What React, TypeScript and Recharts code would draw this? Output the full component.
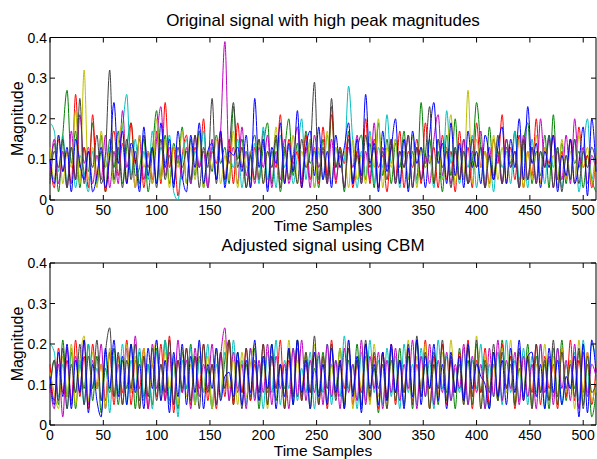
import React from "react";
import { LineChart, Line, XAxis, YAxis, ReferenceArea } from "recharts";

// sample index (every 4th sample of the 512-sample frame)
const samples = [
  0, 4, 8, 12, 16, 20, 24, 28, 32, 36, 40, 44, 48, 52, 56, 60,
  64, 68, 72, 76, 80, 84, 88, 92, 96, 100, 104, 108, 112, 116, 120, 124,
  128, 132, 136, 140, 144, 148, 152, 156, 160, 164, 168, 172, 176, 180, 184, 188,
  192, 196, 200, 204, 208, 212, 216, 220, 224, 228, 232, 236, 240, 244, 248, 252,
  256, 260, 264, 268, 272, 276, 280, 284, 288, 292, 296, 300, 304, 308, 312, 316,
  320, 324, 328, 332, 336, 340, 344, 348, 352, 356, 360, 364, 368, 372, 376, 380,
  384, 388, 392, 396, 400, 404, 408, 412, 416, 420, 424, 428, 432, 436, 440, 444,
  448, 452, 456, 460, 464, 468, 472, 476, 480, 484, 488, 492, 496, 500, 504, 508,
  512,
];

const xTicks = [0, 50, 100, 150, 200, 250, 300, 350, 400, 450, 500];
const yTicks = [0, 0.1, 0.2, 0.3, 0.4];

// ---- original signal ----
const origBlue = [
  0.10, 0.04, 0.16, 0.07, 0.13, 0.02, 0.15, 0.09, 0.05, 0.12, 0.02, 0.06, 0.13, 0.03, 0.11, 0.24,
  0.09, 0.17, 0.04, 0.14, 0.10, 0.02, 0.18, 0.06, 0.13, 0.04, 0.19, 0.08, 0.15, 0.03, 0.17, 0.06,
  0.02, 0.16, 0.08, 0.19, 0.04, 0.12, 0.14, 0.05, 0.17, 0.03, 0.12, 0.11, 0.13, 0.07, 0.16, 0.03,
  0.25, 0.08, 0.15, 0.02, 0.13, 0.09, 0.19, 0.04, 0.14, 0.07, 0.22, 0.03, 0.13, 0.17, 0.06, 0.18,
  0.05, 0.12, 0.03, 0.16, 0.08, 0.13, 0.19, 0.04, 0.15, 0.06, 0.26, 0.09, 0.14, 0.02, 0.17, 0.07,
  0.13, 0.20, 0.04, 0.15, 0.02, 0.17, 0.09, 0.13, 0.03, 0.16, 0.24, 0.09, 0.14, 0.04, 0.19, 0.06,
  0.14, 0.03, 0.17, 0.08, 0.12, 0.04, 0.16, 0.11, 0.05, 0.13, 0.18, 0.04, 0.15, 0.08, 0.20, 0.05,
  0.23, 0.09, 0.14, 0.03, 0.12, 0.08, 0.16, 0.02, 0.11, 0.06, 0.15, 0.04, 0.09, 0.18, 0.01, 0.20,
  0.07,
];
const origGreen = [
  0.05, 0.14, 0.02, 0.16, 0.27, 0.09, 0.17, 0.03, 0.13, 0.07, 0.19, 0.04, 0.12, 0.02, 0.15, 0.08,
  0.17, 0.04, 0.13, 0.19, 0.06, 0.08, 0.15, 0.02, 0.12, 0.22, 0.05, 0.16, 0.04, 0.14, 0.09, 0.18,
  0.04, 0.15, 0.06, 0.17, 0.03, 0.12, 0.07, 0.16, 0.09, 0.13, 0.04, 0.23, 0.10, 0.15, 0.03, 0.11,
  0.16, 0.05, 0.13, 0.19, 0.04, 0.15, 0.02, 0.12, 0.20, 0.06, 0.14, 0.04, 0.17, 0.09, 0.12, 0.03,
  0.15, 0.05, 0.21, 0.08, 0.13, 0.02, 0.17, 0.04, 0.12, 0.16, 0.05, 0.14, 0.03, 0.19, 0.06, 0.15,
  0.04, 0.14, 0.08, 0.17, 0.03, 0.12, 0.05, 0.24, 0.09, 0.15, 0.04, 0.12, 0.02, 0.16, 0.06, 0.20,
  0.05, 0.15, 0.04, 0.09, 0.24, 0.13, 0.03, 0.18, 0.06, 0.12, 0.04, 0.15, 0.09, 0.17, 0.03, 0.14,
  0.19, 0.04, 0.12, 0.06, 0.16, 0.03, 0.21, 0.05, 0.14, 0.04, 0.15, 0.09, 0.12, 0.03, 0.11, 0.05,
  0.02,
];
const origRed = [
  0.10, 0.03, 0.15, 0.07, 0.12, 0.04, 0.26, 0.08, 0.13, 0.03, 0.21, 0.05, 0.16, 0.02, 0.11, 0.17,
  0.06, 0.14, 0.04, 0.19, 0.09, 0.15, 0.03, 0.12, 0.05, 0.17, 0.04, 0.24, 0.08, 0.13, 0.01, 0.11,
  0.16, 0.04, 0.13, 0.08, 0.20, 0.03, 0.12, 0.09, 0.17, 0.05, 0.15, 0.04, 0.19, 0.08, 0.12, 0.03,
  0.13, 0.05, 0.17, 0.03, 0.12, 0.08, 0.21, 0.04, 0.15, 0.09, 0.12, 0.03, 0.16, 0.05, 0.13, 0.04,
  0.18, 0.06, 0.23, 0.04, 0.13, 0.09, 0.16, 0.03, 0.12, 0.05, 0.20, 0.04, 0.15, 0.08, 0.11, 0.02,
  0.13, 0.05, 0.17, 0.03, 0.12, 0.08, 0.15, 0.04, 0.19, 0.09, 0.13, 0.03, 0.16, 0.05, 0.12, 0.02,
  0.17, 0.05, 0.13, 0.03, 0.19, 0.08, 0.12, 0.04, 0.15, 0.09, 0.21, 0.04, 0.13, 0.05, 0.16, 0.03,
  0.12, 0.06, 0.20, 0.04, 0.13, 0.09, 0.16, 0.03, 0.12, 0.05, 0.15, 0.04, 0.18, 0.08, 0.11, 0.03,
  0.10,
];
const origCyan = [
  0.19, 0.17, 0.07, 0.16, 0.04, 0.13, 0.03, 0.11, 0.07, 0.02, 0.12, 0.04, 0.16, 0.08, 0.13, 0.04,
  0.11, 0.18, 0.26, 0.06, 0.15, 0.03, 0.12, 0.05, 0.17, 0.04, 0.13, 0.09, 0.16, 0.02, 0.00, 0.10,
  0.15, 0.04, 0.12, 0.08, 0.17, 0.03, 0.13, 0.05, 0.16, 0.04, 0.11, 0.08, 0.15, 0.03, 0.12, 0.05,
  0.14, 0.04, 0.18, 0.05, 0.12, 0.03, 0.16, 0.08, 0.13, 0.04, 0.11, 0.20, 0.05, 0.15, 0.03, 0.12,
  0.05, 0.16, 0.04, 0.13, 0.08, 0.10, 0.28, 0.14, 0.03, 0.12, 0.05, 0.17, 0.04, 0.13, 0.08, 0.21,
  0.09, 0.15, 0.03, 0.12, 0.05, 0.16, 0.04, 0.13, 0.08, 0.11, 0.03, 0.15, 0.05, 0.22, 0.09, 0.13,
  0.04, 0.12, 0.08, 0.16, 0.03, 0.13, 0.05, 0.11, 0.02, 0.15, 0.08, 0.12, 0.04, 0.17, 0.05, 0.13,
  0.03, 0.15, 0.05, 0.12, 0.04, 0.16, 0.08, 0.13, 0.03, 0.11, 0.05, 0.15, 0.02, 0.12, 0.20, 0.05,
  0.13,
];
const origMagenta = [
  0.06, 0.15, 0.04, 0.12, 0.03, 0.17, 0.05, 0.21, 0.09, 0.13, 0.04, 0.11, 0.05, 0.16, 0.03, 0.12,
  0.04, 0.22, 0.08, 0.13, 0.03, 0.16, 0.05, 0.12, 0.04, 0.15, 0.23, 0.06, 0.13, 0.04, 0.11, 0.05,
  0.13, 0.04, 0.16, 0.08, 0.12, 0.03, 0.15, 0.05, 0.17, 0.39, 0.09, 0.13, 0.04, 0.18, 0.06, 0.12,
  0.04, 0.13, 0.08, 0.16, 0.03, 0.12, 0.05, 0.15, 0.04, 0.11, 0.18, 0.05, 0.13, 0.03, 0.16, 0.08,
  0.12, 0.04, 0.15, 0.05, 0.11, 0.03, 0.13, 0.08, 0.16, 0.04, 0.12, 0.05, 0.19, 0.03, 0.13, 0.08,
  0.15, 0.04, 0.12, 0.08, 0.16, 0.03, 0.13, 0.05, 0.11, 0.04, 0.15, 0.21, 0.06, 0.13, 0.04, 0.12,
  0.05, 0.15, 0.04, 0.12, 0.08, 0.17, 0.03, 0.13, 0.05, 0.11, 0.04, 0.15, 0.08, 0.12, 0.03, 0.16,
  0.05, 0.13, 0.04, 0.20, 0.08, 0.15, 0.03, 0.12, 0.05, 0.16, 0.04, 0.20, 0.08, 0.13, 0.04, 0.11,
  0.07,
];
const origYellow = [
  0.13, 0.05, 0.16, 0.04, 0.12, 0.08, 0.22, 0.04, 0.32, 0.05, 0.13, 0.03, 0.17, 0.08, 0.12, 0.04,
  0.14, 0.19, 0.05, 0.13, 0.03, 0.16, 0.08, 0.12, 0.04, 0.20, 0.05, 0.15, 0.03, 0.13, 0.08, 0.17,
  0.04, 0.13, 0.05, 0.16, 0.03, 0.12, 0.08, 0.15, 0.04, 0.11, 0.05, 0.17, 0.03, 0.13, 0.08, 0.12,
  0.05, 0.15, 0.04, 0.12, 0.08, 0.18, 0.03, 0.13, 0.05, 0.16, 0.04, 0.12, 0.08, 0.15, 0.03, 0.13,
  0.05, 0.17, 0.04, 0.13, 0.08, 0.12, 0.03, 0.15, 0.05, 0.11, 0.04, 0.16, 0.08, 0.20, 0.03, 0.13,
  0.08, 0.15, 0.04, 0.12, 0.05, 0.16, 0.03, 0.13, 0.08, 0.11, 0.04, 0.15, 0.05, 0.12, 0.21, 0.04,
  0.13, 0.05, 0.27, 0.04, 0.15, 0.08, 0.12, 0.03, 0.16, 0.05, 0.13, 0.04, 0.11, 0.08, 0.15, 0.03,
  0.12, 0.05, 0.16, 0.04, 0.13, 0.08, 0.11, 0.03, 0.15, 0.05, 0.12, 0.04, 0.16, 0.08, 0.13, 0.04,
  0.11,
];
const origBlack = [
  0.04, 0.12, 0.08, 0.15, 0.03, 0.13, 0.05, 0.25, 0.04, 0.12, 0.08, 0.16, 0.04, 0.11, 0.32, 0.05,
  0.13, 0.03, 0.15, 0.05, 0.12, 0.04, 0.16, 0.08, 0.13, 0.03, 0.15, 0.05, 0.11, 0.04, 0.13, 0.08,
  0.12, 0.05, 0.16, 0.03, 0.13, 0.08, 0.25, 0.04, 0.15, 0.05, 0.12, 0.24, 0.08, 0.13, 0.03, 0.11,
  0.05, 0.15, 0.04, 0.12, 0.08, 0.16, 0.03, 0.13, 0.05, 0.11, 0.04, 0.15, 0.08, 0.12, 0.29, 0.05,
  0.13, 0.04, 0.25, 0.08, 0.12, 0.03, 0.15, 0.05, 0.11, 0.04, 0.16, 0.08, 0.13, 0.03, 0.12, 0.05,
  0.15, 0.04, 0.12, 0.08, 0.16, 0.03, 0.13, 0.05, 0.11, 0.23, 0.04, 0.15, 0.08, 0.12, 0.03, 0.13,
  0.05, 0.12, 0.04, 0.15, 0.08, 0.13, 0.03, 0.11, 0.05, 0.16, 0.04, 0.13, 0.08, 0.12, 0.03, 0.15,
  0.05, 0.13, 0.04, 0.12, 0.08, 0.16, 0.03, 0.13, 0.02, 0.11, 0.05, 0.15, 0.04, 0.12, 0.08, 0.13,
  0.09,
];

// ---- adjusted signal (CBM) ----
const adjBlue = [
  0.12, 0.05, 0.18, 0.07, 0.20, 0.04, 0.16, 0.08, 0.21, 0.03, 0.15, 0.06, 0.02, 0.19, 0.09, 0.21,
  0.07, 0.17, 0.05, 0.20, 0.08, 0.15, 0.04, 0.19, 0.09, 0.21, 0.06, 0.16, 0.03, 0.18, 0.07, 0.20,
  0.05, 0.17, 0.08, 0.21, 0.04, 0.15, 0.09, 0.19, 0.06, 0.12, 0.13, 0.07, 0.18, 0.05, 0.16, 0.08,
  0.21, 0.06, 0.17, 0.09, 0.20, 0.04, 0.15, 0.07, 0.19, 0.05, 0.21, 0.08, 0.16, 0.04, 0.18, 0.07,
  0.15, 0.05, 0.19, 0.08, 0.16, 0.04, 0.21, 0.07, 0.17, 0.03, 0.20, 0.09, 0.15, 0.05, 0.18, 0.06,
  0.20, 0.08, 0.16, 0.04, 0.19, 0.07, 0.21, 0.05, 0.17, 0.09, 0.20, 0.06, 0.15, 0.04, 0.18, 0.08,
  0.17, 0.06, 0.20, 0.09, 0.15, 0.12, 0.10, 0.04, 0.18, 0.07, 0.16, 0.05, 0.19, 0.08, 0.21, 0.06,
  0.17, 0.18, 0.07, 0.15, 0.04, 0.19, 0.08, 0.16, 0.05, 0.12, 0.09, 0.17, 0.02, 0.20, 0.03, 0.21,
  0.13,
];
const adjGreen = [
  0.08, 0.16, 0.05, 0.21, 0.07, 0.18, 0.04, 0.15, 0.09, 0.20, 0.06, 0.17, 0.03, 0.14, 0.08, 0.19,
  0.05, 0.16, 0.09, 0.20, 0.04, 0.18, 0.07, 0.15, 0.05, 0.19, 0.08, 0.21, 0.06, 0.16, 0.04, 0.18,
  0.09, 0.20, 0.05, 0.17, 0.08, 0.14, 0.04, 0.19, 0.07, 0.16, 0.21, 0.05, 0.18, 0.08, 0.15, 0.06,
  0.19, 0.04, 0.16, 0.08, 0.20, 0.06, 0.15, 0.09, 0.18, 0.05, 0.21, 0.07, 0.17, 0.04, 0.14, 0.08,
  0.18, 0.06, 0.15, 0.09, 0.19, 0.05, 0.16, 0.08, 0.20, 0.04, 0.17, 0.07, 0.14, 0.03, 0.18, 0.06,
  0.16, 0.08, 0.19, 0.05, 0.17, 0.04, 0.21, 0.07, 0.15, 0.09, 0.18, 0.05, 0.20, 0.08, 0.16, 0.04,
  0.19, 0.07, 0.16, 0.05, 0.20, 0.08, 0.15, 0.04, 0.18, 0.06, 0.21, 0.09, 0.17, 0.05, 0.14, 0.07,
  0.20, 0.05, 0.17, 0.08, 0.15, 0.04, 0.19, 0.07, 0.21, 0.06, 0.16, 0.09, 0.18, 0.05, 0.15, 0.02,
  0.08,
];
const adjRed = [
  0.15, 0.06, 0.19, 0.08, 0.16, 0.05, 0.21, 0.07, 0.17, 0.04, 0.20, 0.09, 0.15, 0.06, 0.18, 0.05,
  0.17, 0.08, 0.21, 0.05, 0.16, 0.09, 0.19, 0.04, 0.15, 0.07, 0.20, 0.06, 0.22, 0.03, 0.16, 0.08,
  0.19, 0.05, 0.17, 0.09, 0.20, 0.06, 0.15, 0.04, 0.18, 0.07, 0.21, 0.05, 0.16, 0.08, 0.19, 0.06,
  0.15, 0.08, 0.20, 0.05, 0.17, 0.09, 0.21, 0.04, 0.16, 0.07, 0.19, 0.06, 0.15, 0.08, 0.18, 0.05,
  0.17, 0.04, 0.21, 0.07, 0.16, 0.09, 0.19, 0.05, 0.15, 0.08, 0.20, 0.06, 0.17, 0.04, 0.18, 0.07,
  0.20, 0.05, 0.16, 0.08, 0.19, 0.06, 0.15, 0.09, 0.21, 0.04, 0.17, 0.07, 0.20, 0.05, 0.16, 0.08,
  0.18, 0.06, 0.21, 0.04, 0.16, 0.08, 0.19, 0.05, 0.15, 0.07, 0.20, 0.09, 0.17, 0.04, 0.18, 0.06,
  0.16, 0.08, 0.20, 0.05, 0.17, 0.09, 0.15, 0.04, 0.19, 0.07, 0.21, 0.06, 0.16, 0.08, 0.18, 0.05,
  0.14,
];
const adjCyan = [
  0.20, 0.18, 0.07, 0.15, 0.04, 0.19, 0.08, 0.16, 0.05, 0.20, 0.09, 0.14, 0.06, 0.18, 0.03, 0.17,
  0.08, 0.20, 0.05, 0.16, 0.09, 0.19, 0.06, 0.15, 0.04, 0.18, 0.08, 0.21, 0.05, 0.17, 0.02, 0.16,
  0.09, 0.19, 0.05, 0.16, 0.08, 0.20, 0.04, 0.15, 0.07, 0.18, 0.06, 0.21, 0.09, 0.16, 0.05, 0.19,
  0.07, 0.15, 0.04, 0.18, 0.08, 0.21, 0.05, 0.16, 0.09, 0.19, 0.06, 0.14, 0.08, 0.18, 0.04, 0.17,
  0.08, 0.20, 0.05, 0.16, 0.07, 0.22, 0.09, 0.15, 0.04, 0.18, 0.06, 0.21, 0.08, 0.16, 0.05, 0.19,
  0.07, 0.17, 0.04, 0.20, 0.08, 0.15, 0.05, 0.19, 0.07, 0.16, 0.04, 0.21, 0.09, 0.17, 0.06, 0.14,
  0.08, 0.19, 0.05, 0.16, 0.09, 0.20, 0.04, 0.15, 0.07, 0.18, 0.05, 0.21, 0.08, 0.16, 0.06, 0.19,
  0.05, 0.17, 0.08, 0.20, 0.04, 0.16, 0.07, 0.19, 0.05, 0.15, 0.09, 0.18, 0.06, 0.21, 0.08, 0.20,
  0.16,
];
const adjMagenta = [
  0.10, 0.04, 0.15, 0.02, 0.19, 0.06, 0.17, 0.08, 0.21, 0.05, 0.16, 0.09, 0.20, 0.04, 0.18, 0.07,
  0.15, 0.05, 0.19, 0.08, 0.22, 0.06, 0.17, 0.04, 0.20, 0.09, 0.15, 0.06, 0.18, 0.05, 0.21, 0.08,
  0.16, 0.04, 0.19, 0.07, 0.15, 0.09, 0.20, 0.05, 0.17, 0.24, 0.06, 0.18, 0.08, 0.15, 0.04, 0.19,
  0.06, 0.16, 0.08, 0.20, 0.05, 0.17, 0.09, 0.15, 0.04, 0.19, 0.07, 0.21, 0.06, 0.16, 0.08, 0.18,
  0.05, 0.20, 0.07, 0.16, 0.04, 0.19, 0.08, 0.15, 0.06, 0.21, 0.05, 0.17, 0.09, 0.18, 0.04, 0.16,
  0.08, 0.19, 0.06, 0.15, 0.09, 0.21, 0.04, 0.17, 0.07, 0.20, 0.05, 0.16, 0.08, 0.18, 0.06, 0.15,
  0.09, 0.20, 0.05, 0.17, 0.08, 0.15, 0.04, 0.19, 0.07, 0.21, 0.06, 0.16, 0.09, 0.18, 0.05, 0.17,
  0.07, 0.15, 0.04, 0.20, 0.08, 0.17, 0.05, 0.19, 0.09, 0.16, 0.06, 0.20, 0.04, 0.18, 0.07, 0.15,
  0.12,
];
const adjYellow = [
  0.13, 0.08, 0.04, 0.17, 0.07, 0.20, 0.05, 0.16, 0.22, 0.06, 0.18, 0.09, 0.15, 0.04, 0.19, 0.07,
  0.16, 0.05, 0.20, 0.08, 0.17, 0.04, 0.19, 0.07, 0.15, 0.21, 0.06, 0.18, 0.09, 0.16, 0.05, 0.19,
  0.07, 0.15, 0.05, 0.20, 0.08, 0.17, 0.04, 0.19, 0.06, 0.21, 0.09, 0.16, 0.05, 0.18, 0.07, 0.15,
  0.20, 0.06, 0.17, 0.04, 0.19, 0.08, 0.15, 0.05, 0.21, 0.07, 0.16, 0.09, 0.18, 0.04, 0.20, 0.06,
  0.17, 0.05, 0.15, 0.08, 0.19, 0.06, 0.21, 0.04, 0.16, 0.09, 0.18, 0.05, 0.20, 0.07, 0.15, 0.04,
  0.19, 0.06, 0.16, 0.08, 0.21, 0.05, 0.17, 0.09, 0.20, 0.04, 0.15, 0.07, 0.18, 0.06, 0.21, 0.08,
  0.16, 0.05, 0.20, 0.07, 0.22, 0.04, 0.17, 0.09, 0.15, 0.06, 0.19, 0.08, 0.21, 0.05, 0.16, 0.07,
  0.18, 0.04, 0.15, 0.09, 0.20, 0.06, 0.17, 0.05, 0.19, 0.08, 0.16, 0.04, 0.21, 0.07, 0.18, 0.06,
  0.11,
];
const adjBlack = [
  0.09, 0.16, 0.06, 0.19, 0.04, 0.15, 0.08, 0.20, 0.05, 0.17, 0.09, 0.21, 0.06, 0.18, 0.24, 0.07,
  0.18, 0.05, 0.16, 0.09, 0.20, 0.04, 0.17, 0.07, 0.19, 0.06, 0.15, 0.08, 0.21, 0.05, 0.16, 0.09,
  0.19, 0.06, 0.17, 0.04, 0.20, 0.08, 0.15, 0.05, 0.18, 0.09, 0.21, 0.06, 0.16, 0.04, 0.19, 0.07,
  0.16, 0.08, 0.20, 0.05, 0.17, 0.09, 0.15, 0.04, 0.19, 0.07, 0.21, 0.06, 0.18, 0.08, 0.22, 0.05,
  0.17, 0.09, 0.20, 0.06, 0.15, 0.04, 0.19, 0.08, 0.16, 0.05, 0.21, 0.07, 0.18, 0.09, 0.15, 0.04,
  0.19, 0.06, 0.16, 0.08, 0.20, 0.05, 0.22, 0.07, 0.18, 0.04, 0.15, 0.09, 0.21, 0.06, 0.17, 0.08,
  0.15, 0.05, 0.19, 0.07, 0.21, 0.04, 0.16, 0.08, 0.20, 0.06, 0.18, 0.09, 0.15, 0.05, 0.19, 0.07,
  0.17, 0.04, 0.20, 0.08, 0.16, 0.06, 0.21, 0.05, 0.18, 0.09, 0.15, 0.07, 0.19, 0.04, 0.17, 0.08,
  0.10,
];

// matlab-ish line order, blue drawn last so it sits on top
const seriesKeys = ["g", "r", "c", "m", "y", "k", "b"];
const seriesColors: Record<string, string> = {
  b: "#0000ff",
  g: "#008000",
  r: "#ff0000",
  c: "#00bfbf",
  m: "#bf00bf",
  y: "#bfbf00",
  k: "#404040",
};

const origData = samples.map((s, i) => ({
  s,
  b: origBlue[i],
  g: origGreen[i],
  r: origRed[i],
  c: origCyan[i],
  m: origMagenta[i],
  y: origYellow[i],
  k: origBlack[i],
}));

const adjData = samples.map((s, i) => ({
  s,
  b: adjBlue[i],
  g: adjGreen[i],
  r: adjRed[i],
  c: adjCyan[i],
  m: adjMagenta[i],
  y: adjYellow[i],
  k: adjBlack[i],
}));

const W = 597;
const PLOT_LEFT = 50;
const PLOT_RIGHT = 596;
const TICK_LEN = 5;
const TICK_FONT = 14;

const XTick = (props: any) => {
  const { x, payload, base, top } = props;
  return (
    <g>
      <line x1={x} y1={base} x2={x} y2={base - TICK_LEN} stroke="#000" />
      <line x1={x} y1={top} x2={x} y2={top + TICK_LEN} stroke="#000" />
      <text x={x} y={base + 15} textAnchor="middle" fontSize={TICK_FONT} fill="#000">
        {payload.value}
      </text>
    </g>
  );
};

const YTick = (props: any) => {
  const { y, payload } = props;
  const v = payload.value === 0 ? "0" : Number(payload.value).toFixed(1);
  return (
    <g>
      <line x1={PLOT_LEFT} y1={y} x2={PLOT_LEFT + TICK_LEN} y2={y} stroke="#000" />
      <line x1={PLOT_RIGHT} y1={y} x2={PLOT_RIGHT - TICK_LEN} y2={y} stroke="#000" />
      <text x={PLOT_LEFT - 3} y={y + 5} textAnchor="end" fontSize={TICK_FONT} fill="#000">
        {v}
      </text>
    </g>
  );
};

interface PanelProps {
  data: any[];
  title: string;
  height: number;
  plotTop: number;
  plotBottom: number;
}

function Panel({ data, title, height, plotTop, plotBottom }: PanelProps) {
  const xAxisH = 30;
  const cx = (PLOT_LEFT + PLOT_RIGHT) / 2;
  const cy = (plotTop + plotBottom) / 2;
  return (
    <LineChart
      width={W}
      height={height}
      data={data}
      margin={{ top: plotTop, right: W - PLOT_RIGHT, bottom: height - plotBottom - xAxisH, left: 10 }}
    >
      <XAxis
        dataKey="s"
        type="number"
        domain={[0, 512]}
        ticks={xTicks}
        interval={0}
        height={xAxisH}
        axisLine={false}
        tickLine={false}
        tickSize={0}
        tickMargin={0}
        tick={<XTick base={plotBottom} top={plotTop} />}
        label={() => (
          <text x={cx} y={plotBottom + 31} textAnchor="middle" fontSize={15.5} fill="#000">
            Time Samples
          </text>
        )}
      />
      <YAxis
        type="number"
        domain={[0, 0.4]}
        ticks={yTicks}
        interval={0}
        width={40}
        axisLine={false}
        tickLine={false}
        tickSize={0}
        tickMargin={0}
        allowDataOverflow
        tick={<YTick />}
        label={() => (
          <text
            x={17}
            y={cy}
            textAnchor="middle"
            dominantBaseline="central"
            fontSize={16}
            fill="#000"
            transform={`rotate(-90, 17, ${cy})`}
          >
            Magnitude
          </text>
        )}
      />
      {seriesKeys.map((k) => (
        <Line
          key={k}
          type="monotone"
          dataKey={k}
          stroke={seriesColors[k]}
          strokeWidth={1}
          dot={false}
          activeDot={false}
          isAnimationActive={false}
        />
      ))}
      <ReferenceArea
        x1={0}
        x2={512}
        y1={0}
        y2={0.4}
        fill="none"
        stroke="#000"
        strokeWidth={1}
        ifOverflow="visible"
        label={{ value: title, position: "top", offset: 12, fontSize: 17, fill: "#000" }}
      />
    </LineChart>
  );
}

export default function App() {
  return (
    <div
      style={{
        position: "absolute",
        left: 0,
        top: 0,
        width: W,
        height: 459,
        background: "#fff",
        fontFamily: '"Liberation Sans", Arial, sans-serif',
      }}
    >
      <div style={{ position: "absolute", left: 0, top: 0 }}>
        <Panel
          data={origData}
          title="Original signal with high peak magnitudes"
          height={245}
          plotTop={37.5}
          plotBottom={200}
        />
      </div>
      <div style={{ position: "absolute", left: 0, top: 230 }}>
        <Panel
          data={adjData}
          title="Adjusted signal using CBM"
          height={229}
          plotTop={33}
          plotBottom={195}
        />
      </div>
    </div>
  );
}
